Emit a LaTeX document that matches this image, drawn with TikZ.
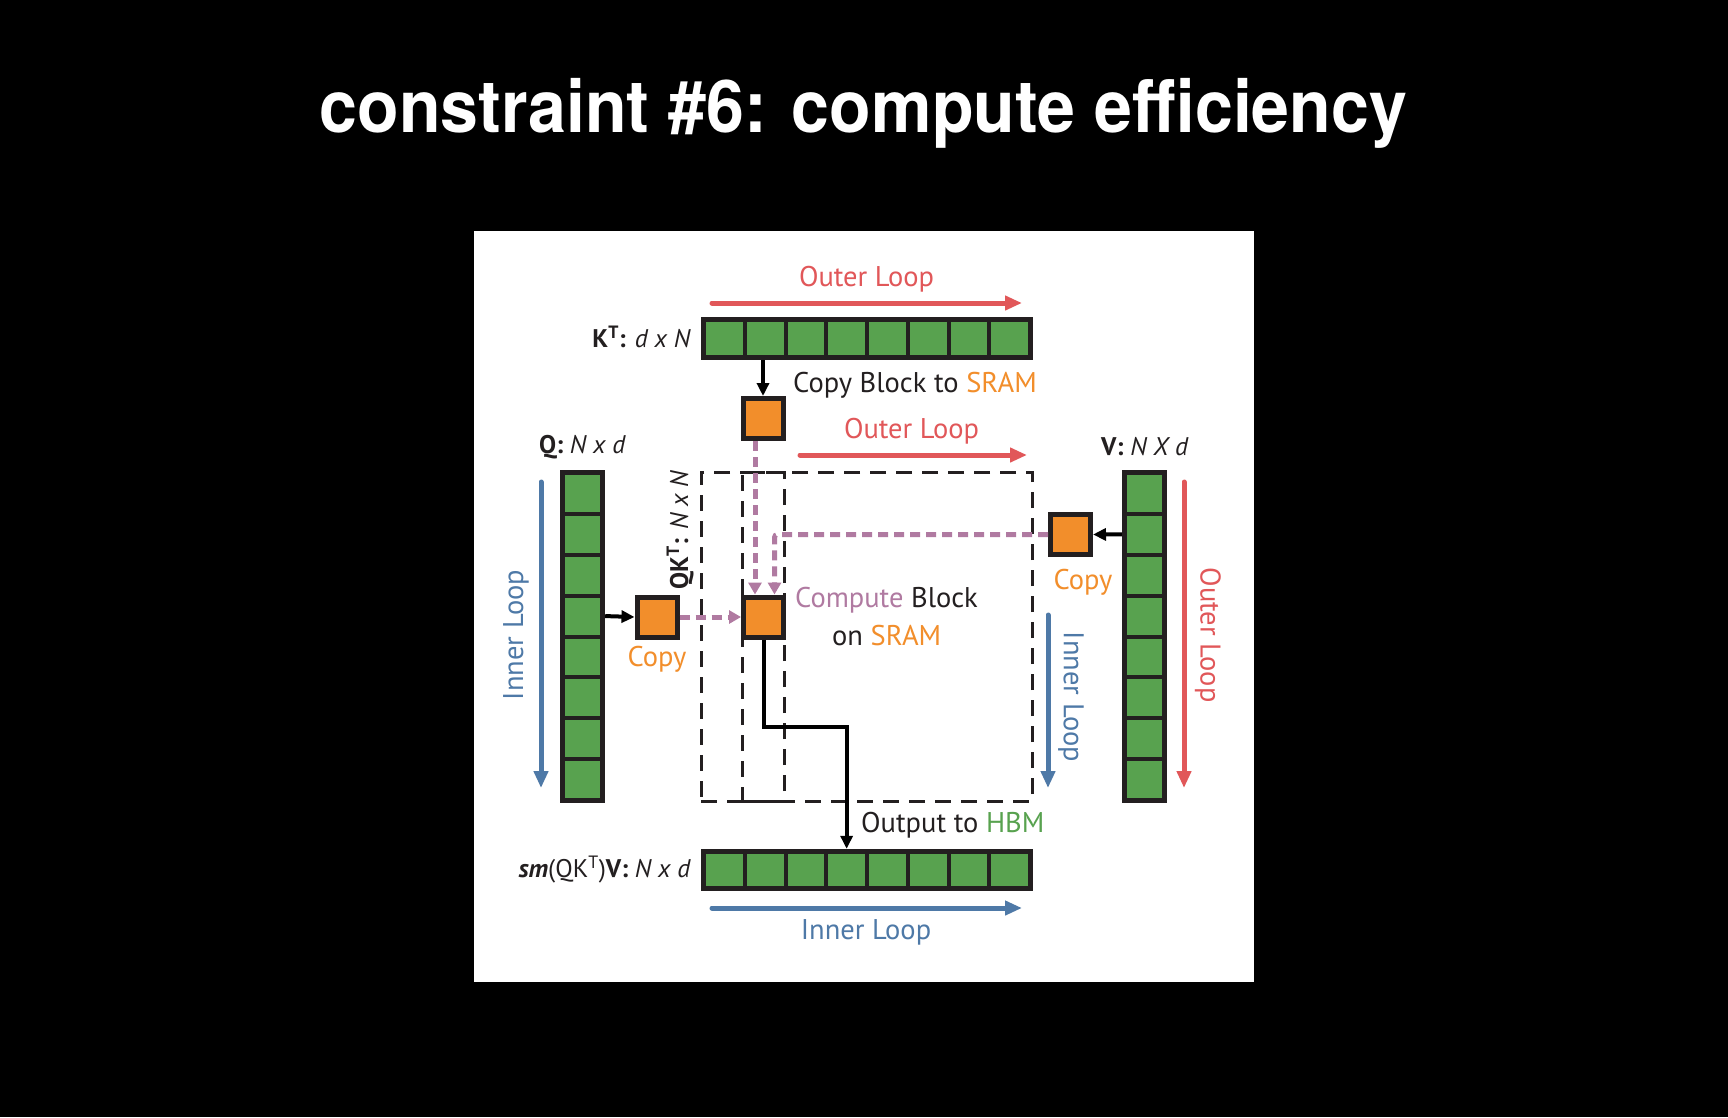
\documentclass[tikz,border=0pt]{standalone}
\usepackage{fontspec}
\setmainfont{PT Sans}
\newfontfamily\titlefont{TeX Gyre Heros}
\usetikzlibrary{arrows.meta}
\definecolor{grn}{HTML}{58A24F}
\definecolor{org}{HTML}{F28E2B}
\definecolor{redl}{HTML}{E15759}
\definecolor{bluel}{HTML}{4E79A7}
\definecolor{purp}{HTML}{B07AA1}
\definecolor{dk}{HTML}{231F20}
\tikzset{
  lbl/.style={inner sep=0pt, font=\fontsize{28.5}{32}\selectfont, text=dk},
  dimlbl/.style={inner sep=0pt, font=\fontsize{25.5}{30}\selectfont, text=dk},
  barbox/.style={fill=dk, inner sep=0pt, draw=none},
  cellbox/.style={fill=grn, inner sep=0pt, outer sep=0pt, draw=none},
  sram/.style={draw=dk, fill=org, line width=5pt, minimum size=40pt, inner sep=0pt},
  loopred/.style={draw=redl, line width=5pt, line cap=round, -{Triangle[length=17pt,width=14pt]}},
  loopblue/.style={draw=bluel, line width=5pt, line cap=round, -{Triangle[length=17pt,width=14pt]}},
  blk/.style={draw=black, line width=4pt, -{Triangle[length=13pt,width=12pt]}},
  pdash/.style={draw=purp, line width=5pt, dash pattern=on 10pt off 6pt, -{Triangle[length=12pt,width=13pt]}},
  dbox/.style={draw=dk, line width=3pt, dash pattern=on 16pt off 10pt, inner sep=0pt, fill=none}
}
\begin{document}
\begin{tikzpicture}[x=1pt,y=-1pt]
% background and panel
\fill[black] (0,0) rectangle (1728,1117);
\useasboundingbox (0,0) rectangle (1728,1117);
\fill[white] (474,231) rectangle (1254,982);

% title
\node[anchor=base, inner sep=0pt, text=white] (title) at (863.5,132)
  {\resizebox*{1087pt}{70pt}{\titlefont\bfseries constraint \#6: compute efficiency}};

% dashed QK^T regions
\node[dbox, minimum width=331pt, minimum height=329pt] (QKT) at (866.5,636.5) {};
\node[dbox, minimum width=42pt, minimum height=329pt] (col) at (763,636.5) {};

% K^T bar
\node[barbox, minimum width=332pt, minimum height=43pt] (KT) at (867,338.5) {};
\foreach \i in {0,...,7}
  \node[cellbox, minimum width=36.75pt, minimum height=33pt] (KT\i) at ({724.375+\i*40.75},338.5) {};
% output bar
\node[barbox, minimum width=332pt, minimum height=42pt] (O) at (867,870) {};
\foreach \i in {0,...,7}
  \node[cellbox, minimum width=36.75pt, minimum height=32pt] (O\i) at ({724.375+\i*40.75},870) {};
% Q bar
\node[barbox, minimum width=45pt, minimum height=333pt] (Q) at (582.5,636.5) {};
\foreach \i in {0,...,7}
  \node[cellbox, minimum width=35pt, minimum height=36.875pt] (Q\i) at (582.5,{493.4375+\i*40.875}) {};
% V bar
\node[barbox, minimum width=45pt, minimum height=333pt] (V) at (1144.5,636.5) {};
\foreach \i in {0,...,7}
  \node[cellbox, minimum width=35pt, minimum height=36.875pt] (V\i) at (1144.5,{493.4375+\i*40.875}) {};

% SRAM boxes
\node[sram] (Kb) at (763,418.5) {};
\node[sram] (Cb) at (657,617) {};
\node[sram] (Mb) at (763.5,617) {};
\node[sram] (Vb) at (1070.5,534.5) {};

% purple dashed data flow
\draw[pdash] ([xshift=-8pt]Kb.south) -- ([xshift=-8pt]Kb.south |- Mb.north);
\draw[pdash, rounded corners=3pt] (Vb.west) -| ([xshift=11pt]Mb.north);
\draw[pdash] (Cb.east) -- (Mb.west);

% black copy arrows
\draw[blk] (Kb.north |- KT.south) -- (Kb.north);
\draw[blk] (Q3.east -| Q.east) -- (Cb.west);
\draw[blk] (V1.west -| V.west) -- (Vb.east);
\draw[blk] (Mb.south) -- ++(0,87) -| (O3.north |- O.north);

% loop arrows
\coordinate (r1a) at (712,303);  \coordinate (r1b) at (1022,303);
\coordinate (r2a) at (800,455);  \coordinate (r2b) at (1027,455);
\coordinate (r3a) at (1184,482); \coordinate (r3b) at (1184,788);
\coordinate (b1a) at (541,482);  \coordinate (b1b) at (541,788);
\coordinate (b2a) at (1048,615); \coordinate (b2b) at (1048,788);
\coordinate (b3a) at (712,908);  \coordinate (b3b) at (1022,908);
\draw[loopred] (r1a) -- (r1b);
\draw[loopred] (r2a) -- (r2b);
\draw[loopred] (r3a) -- (r3b);
\draw[loopblue] (b1a) -- (b1b);
\draw[loopblue] (b2a) -- (b2b);
\draw[loopblue] (b3a) -- (b3b);

% labels
\node[lbl, text=redl] (tOL1) at (866.5,279) {Outer Loop};
\node[lbl, text=redl] (tOL2) at (911.5,431) {Outer Loop};
\node[lbl, text=redl, rotate=-90] (tOL3) at (1208,635) {Outer Loop};
\node[lbl, text=bluel, rotate=90] (tIL1) at (516,635) {Inner Loop};
\node[lbl, text=bluel, rotate=-90] (tIL2) at (1071,697) {Inner Loop};
\node[lbl, text=bluel] (tIL3) at (866,932) {Inner Loop};
\node[lbl, anchor=west] (tcopyK) at (793,385) {Copy Block to \textcolor{org}{SRAM}};
\node[dimlbl, anchor=east] (tKT) at (691,337) {\textbf{K\textsuperscript{T}:} \textit{d x N}};
\node[dimlbl] (tQ) at (582.5,447) {\textbf{Q:} \textit{N x d}};
\node[dimlbl] (tV) at (1145,447) {\textbf{V:} \textit{N X d}};
\node[dimlbl, rotate=90] (tQKT) at (680,530) {\textbf{QK\textsuperscript{T}:} \textit{N x N}};
\node[lbl, text=org] (tC1) at (657,659) {Copy};
\node[lbl, text=org] (tC2) at (1083,582) {Copy};
\node[lbl, anchor=west] (tcomp) at (795,600) {\textcolor{purp}{Compute} Block};
\node[lbl, anchor=west] (ton) at (832,636) {on \textcolor{org}{SRAM}};
\node[lbl, anchor=west] (tout) at (861,825) {Output to \textcolor{grn}{HBM}};
\node[dimlbl, anchor=east] (tsm) at (691,870) {\textbf{\textit{sm}}(QK\textsuperscript{T})\textbf{V:} \textit{N x d}};
\end{tikzpicture}
\end{document}
